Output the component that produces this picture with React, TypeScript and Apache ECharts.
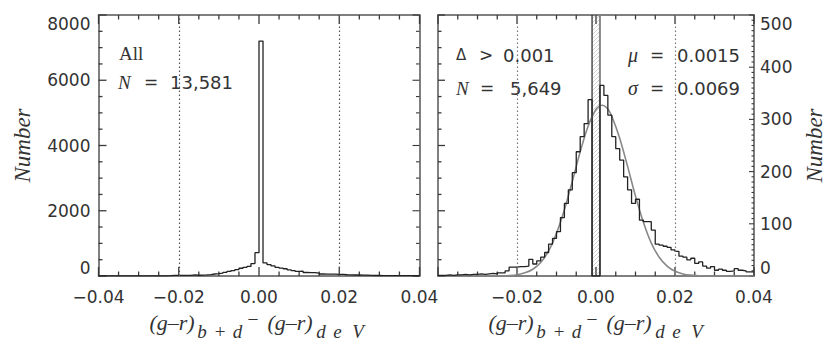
import React, { useEffect, useRef } from "react";
import * as echarts from "echarts";

// ---------- data ----------
const binStart = -0.04;
const binWidth = 0.001;

// All objects, 80 bins of width 0.001 from -0.040 to +0.040
const allCounts = [
  1, 1, 2, 1, 2, 2, 3, 2, 3, 3,
  4, 3, 4, 5, 4, 6, 6, 10, 17, 17,
  18, 18, 19, 32, 23, 29, 36, 45, 61, 72,
  85, 112, 139, 165, 198, 238, 267, 292, 380, 714,
  7200, 400, 346, 308, 267, 244, 222, 190, 165, 139,
  147, 107, 104, 104, 88, 61, 59, 57, 55, 50,
  47, 38, 36, 31, 34, 24, 27, 19, 15, 18,
  11, 13, 11, 9, 10, 14, 11, 10, 8, 8,
];

// Delta > 0.001 subset, same bins
const selectedCounts = [
  1, 1, 2, 1, 2, 2, 3, 2, 3, 3,
  4, 3, 4, 5, 4, 6, 6, 10, 17, 17,
  18, 18, 19, 32, 23, 29, 36, 45, 61, 72,
  85, 112, 139, 165, 198, 238, 267, 292, 338, 0,
  0, 365, 346, 308, 267, 244, 222, 190, 165, 139,
  147, 107, 104, 104, 88, 61, 59, 57, 55, 50,
  47, 38, 36, 31, 34, 24, 27, 19, 15, 18,
  11, 13, 11, 9, 10, 14, 11, 10, 8, 8,
];

// Gaussian fit curve (mu = 0.0015, sigma = 0.0069)
const fitX = [
  -0.04, -0.03, -0.026, -0.024, -0.022, -0.02, -0.018, -0.016, -0.014, -0.012,
  -0.01, -0.008, -0.006, -0.004, -0.002, 0.0, 0.0015, 0.003, 0.004, 0.006,
  0.008, 0.01, 0.012, 0.014, 0.016, 0.018, 0.02, 0.022, 0.024, 0.026,
  0.028, 0.03, 0.04,
];
const fitY = [
  0, 0, 0.1, 0.4, 1, 2.5, 6, 13, 26, 48,
  82, 127, 181, 238, 287, 319, 327, 320, 306, 264,
  210, 153, 103, 63, 36, 19, 9, 4, 1.6, 0.6,
  0.2, 0.1, 0,
];

const limitLines = [-0.022, 0.022];
const excludedBand = [-0.001, 0.001];

// axes
const xMin = -0.04;
const xMax = 0.04;
const xInterval = 0.02;
const xMinorStep = 0.005;
const leftYMax = 8000;
const leftYInterval = 2000;
const leftYMinorStep = 500;
const rightYMax = 500;
const rightYInterval = 100;
const rightYMinorStep = 10;

const annotationsLeft = { label: "All", n: "13,581" };
const annotationsRight = { cut: "0.001", n: "5,649", mu: "0.0015", sigma: "0.0069" };

// ---------- layout / style ----------
const SANS = "DejaVu Sans";
const SERIF = "Liberation Serif";
const TEXT = "#333";
const FRAME = "#555";
const TICK = "#3a3a3a";
const G0 = { left: 98.5, top: 15, width: 321, height: 261 };
const G1 = { left: 438, top: 15, width: 316, height: 261 };

function histData(counts: number[]) {
  const d: number[][] = counts.map((c, i) => [binStart + i * binWidth, c]);
  d.push([binStart + counts.length * binWidth, counts[counts.length - 1]]);
  return d;
}

function fmtX(v: number) {
  if (Math.abs(v) < 1e-9) return "0.00";
  return (v < 0 ? "\u2212" : "") + Math.abs(v).toFixed(2);
}

// tick values along an axis: [value, isMajor]
function tickList(min: number, max: number, minor: number, major: number) {
  const out: number[][] = [];
  const n = Math.round((max - min) / minor);
  const per = Math.round(major / minor);
  for (let i = 0; i <= n; i++) out.push([min + i * minor, i % per === 0 ? 1 : 0]);
  return out;
}

const noSplit = { splitLine: { show: false }, minorSplitLine: { show: false } };

function xFrame(gridIndex: number, top: boolean, hideMin: boolean) {
  return {
    type: "value",
    gridIndex,
    position: top ? "top" : "bottom",
    min: xMin,
    max: xMax,
    interval: xInterval,
    axisLine: { show: true, onZero: false, lineStyle: { color: FRAME, width: 1.5 } },
    axisTick: { show: false },
    ...noSplit,
    axisLabel: {
      show: !top,
      showMinLabel: !hideMin,
      formatter: fmtX,
      fontFamily: SANS,
      fontSize: 17,
      color: TEXT,
      margin: 12,
    },
  };
}

function yFrame(gridIndex: number, position: string, max: number, interval: number, labels: boolean, nameGap: number) {
  return {
    type: "value",
    gridIndex,
    position,
    min: 0,
    max,
    interval,
    name: labels ? "Number" : "",
    nameLocation: "middle",
    nameRotate: 90,
    nameGap,
    nameTextStyle: { fontFamily: SERIF, fontStyle: "italic", fontSize: 23, color: TEXT },
    axisLine: { show: true, onZero: false, lineStyle: { color: FRAME, width: 1.5 } },
    axisTick: { show: false },
    ...noSplit,
    axisLabel: {
      show: labels,
      formatter: (v: number) => String(v),
      fontFamily: SANS,
      fontSize: 17,
      color: TEXT,
      margin: position === "left" ? 8 : 6,
      verticalAlignMinLabel: "bottom",
      verticalAlignMaxLabel: "top",
    },
  };
}

function seg(x1: number, y1: number, x2: number, y2: number, stroke: string, lineWidth: number) {
  return { type: "line", shape: { x1, y1, x2, y2 }, style: { stroke, lineWidth } };
}

// one custom item per panel: frame ticks (through api.coord) and, on the right, the hatched band
function panelRenderItem(cfg: {
  yMax: number;
  xT: number[][];
  yLeft: number[][];
  yRight: number[][];
  yLeftLen: number[];
  yRightLen: number[];
  band: boolean;
}) {
  return (params: any, api: any) => {
    const children: any[] = [];
    const bl = api.coord([xMin, 0]);
    const tr = api.coord([xMax, cfg.yMax]);
    const xL = bl[0];
    const yB = bl[1];
    const xR = tr[0];
    const yT = tr[1];

    if (cfg.band) {
      const x0 = api.coord([excludedBand[0], 0])[0];
      const x1 = api.coord([excludedBand[1], 0])[0];
      for (let k = x0 + yT; k <= x1 + yB; k += 4) {
        const sx = Math.max(x0, k - yB);
        const ex = Math.min(x1, k - yT);
        if (ex <= sx) continue;
        children.push(seg(sx, k - sx, ex, k - ex, "#bbb", 0.7));
      }
      children.push(seg(x0, yT, x0, yB, "#222", 1.2));
      children.push(seg(x1, yT, x1, yB, "#888", 2));
    }

    cfg.xT.forEach(([v, m]) => {
      const px = api.coord([v, 0])[0];
      const l = m ? 9 : 4.5;
      children.push(seg(px, yB, px, yB - l, TICK, 1.3));
      children.push(seg(px, yT, px, yT + l, TICK, 1.3));
    });
    cfg.yLeft.forEach(([v, m]) => {
      const py = api.coord([xMin, v])[1];
      const l = m ? cfg.yLeftLen[0] : cfg.yLeftLen[1];
      children.push(seg(xL, py, xL + l, py, TICK, 1.3));
    });
    cfg.yRight.forEach(([v, m]) => {
      const py = api.coord([xMin, v])[1];
      const l = m ? cfg.yRightLen[0] : cfg.yRightLen[1];
      children.push(seg(xR, py, xR - l, py, TICK, 1.1));
    });
    return { type: "group", children };
  };
}

function limitMarkLine(color: string) {
  return {
    silent: true,
    symbol: ["none", "none"],
    label: { show: false },
    lineStyle: { type: [1.5, 2.5], color, width: 1.2 },
    data: limitLines.map((v) => ({ xAxis: v })),
  };
}

function txt(text: string, x: number, y: number, opts: any = {}) {
  return {
    type: "text",
    x,
    y,
    silent: true,
    style: {
      text,
      fill: TEXT,
      fontFamily: opts.family || SANS,
      fontSize: opts.size || 18,
      fontStyle: opts.italic ? "italic" : "normal",
      align: opts.align || "left",
      verticalAlign: "middle",
    },
  };
}

function xTitle(cx: number) {
  const it = { family: SERIF, italic: true };
  return [
    txt("(g\u2013r)", cx - 87, 322, { ...it, size: 22, align: "center" }),
    txt("b", cx - 57, 331, { ...it, size: 19, align: "center" }),
    txt("+", cx - 39, 331, { family: SERIF, size: 19, align: "center" }),
    txt("d", cx - 21.5, 331, { ...it, size: 19, align: "center" }),
    txt("\u2013", cx - 6, 318, { family: SERIF, size: 18, align: "center" }),
    txt("(g\u2013r)", cx + 31, 322, { ...it, size: 22, align: "center" }),
    txt("d", cx + 62, 331, { ...it, size: 19, align: "center" }),
    txt("e", cx + 78.5, 331, { ...it, size: 19, align: "center" }),
    txt("V", cx + 99, 331, { ...it, size: 19, align: "center" }),
  ];
}

export default function App() {
  const ref = useRef<HTMLDivElement>(null);
  useEffect(() => {
    if (!ref.current) return;
    const chart = echarts.init(ref.current, undefined, { renderer: "svg" });
    const xT = tickList(xMin, xMax, xMinorStep, xInterval);
    const yTL = tickList(0, leftYMax, leftYMinorStep, leftYInterval);
    const yTR = tickList(0, rightYMax, rightYMinorStep, rightYInterval);
    // the right panel's left edge mirrors the 0-8000 scale of the left panel
    const yTLOnRight = yTL.map(([v, m]) => [(v / leftYMax) * rightYMax, m]);

    const option: any = {
      animation: false,
      grid: [G0, G1],
      xAxis: [
        xFrame(0, false, false),
        xFrame(0, true, false),
        xFrame(1, false, true),
        xFrame(1, true, true),
      ],
      yAxis: [
        yFrame(0, "left", leftYMax, leftYInterval, true, 65),
        yFrame(0, "right", leftYMax, leftYInterval, false, 0),
        yFrame(1, "left", leftYMax, leftYInterval, false, 0),
        yFrame(1, "right", rightYMax, rightYInterval, true, 49),
      ],
      series: [
        {
          type: "custom",
          xAxisIndex: 0,
          yAxisIndex: 0,
          renderItem: panelRenderItem({
            yMax: leftYMax,
            xT,
            yLeft: yTL,
            yRight: yTL,
            yLeftLen: [8, 4],
            yRightLen: [7, 3.5],
            band: false,
          }),
          data: [[xMin, xMax]],
          encode: { x: [0, 1] },
          silent: true,
        },
        {
          type: "line",
          xAxisIndex: 0,
          yAxisIndex: 0,
          step: "end",
          symbol: "none",
          data: histData(allCounts),
          lineStyle: { color: "#222", width: 1.3 },
          markLine: limitMarkLine("#555"),
        },
        {
          type: "custom",
          xAxisIndex: 2,
          yAxisIndex: 3,
          renderItem: panelRenderItem({
            yMax: rightYMax,
            xT,
            yLeft: yTLOnRight,
            yRight: yTR,
            yLeftLen: [7, 3.5],
            yRightLen: [5, 2.5],
            band: true,
          }),
          data: [[excludedBand[0], excludedBand[1]]],
          encode: { x: [0, 1] },
          silent: true,
        },
        {
          type: "line",
          xAxisIndex: 2,
          yAxisIndex: 3,
          smooth: 0.3,
          symbol: "none",
          data: fitX.map((x, i) => [x, fitY[i]]),
          lineStyle: { color: "#888", width: 1.6 },
        },
        {
          type: "line",
          xAxisIndex: 2,
          yAxisIndex: 3,
          step: "end",
          symbol: "none",
          data: histData(selectedCounts),
          lineStyle: { color: "#222", width: 1.3 },
          markLine: limitMarkLine("#777"),
        },
      ],
      graphic: [
        txt(annotationsLeft.label, 119, 53, { family: SERIF, size: 19 }),
        txt("N", 118, 82, { family: SERIF, size: 19, italic: true }),
        txt("=", 151, 82, { size: 17, align: "center" }),
        txt(annotationsLeft.n, 170, 82, { size: 18 }),

        txt("\u0394", 456, 55, { size: 15 }),
        txt(">", 486, 55, { size: 17, align: "center" }),
        txt(annotationsRight.cut, 503, 55, { size: 18 }),
        txt("N", 456, 88, { family: SERIF, size: 19, italic: true }),
        txt("=", 487, 88, { size: 17, align: "center" }),
        txt(annotationsRight.n, 510, 88, { size: 18 }),

        txt("\u03bc", 628, 55, { family: SERIF, size: 20, italic: true }),
        txt("=", 657, 55, { size: 17, align: "center" }),
        txt(annotationsRight.mu, 677, 55, { size: 18 }),
        txt("\u03c3", 628, 88, { family: SERIF, size: 20, italic: true }),
        txt("=", 657, 88, { size: 17, align: "center" }),
        txt(annotationsRight.sigma, 677, 88, { size: 18 }),

        ...xTitle(259),
        ...xTitle(598),
      ],
    };
    chart.setOption(option);
    return () => chart.dispose();
  }, []);
  return (
    <div
      ref={ref}
      style={{ position: "absolute", left: 0, top: 0, width: 830, height: 358, background: "#fff" }}
    />
  );
}
